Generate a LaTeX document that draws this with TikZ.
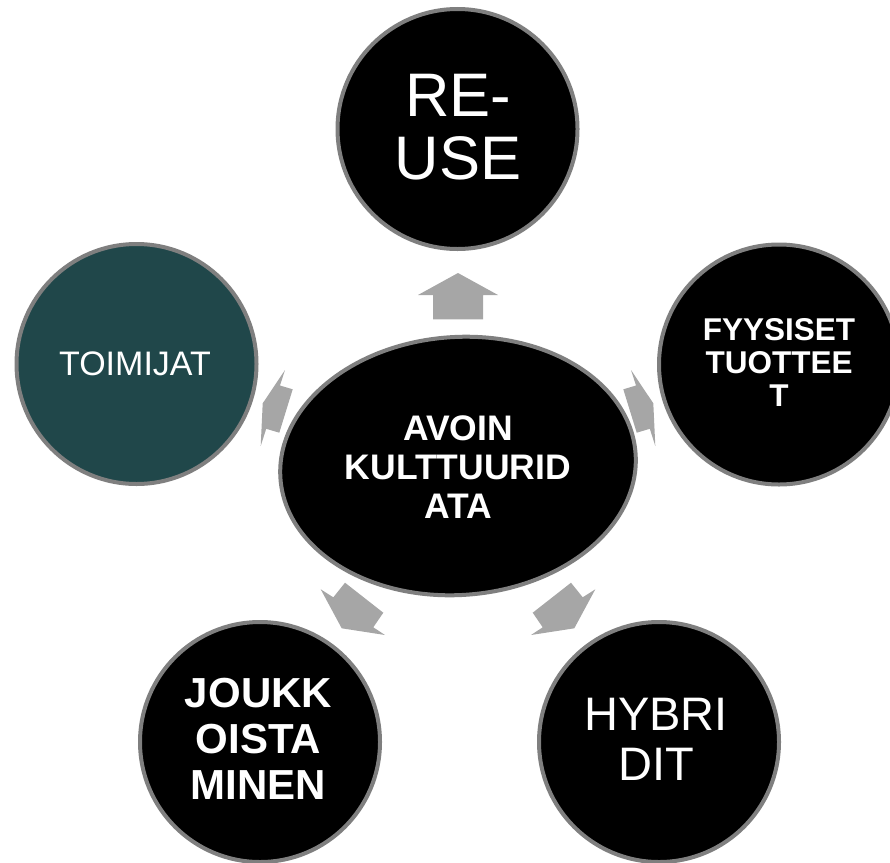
\documentclass[tikz,border=0pt]{standalone}
\usepackage{fontspec}
\setmainfont{Liberation Sans}
\usetikzlibrary{shapes.geometric}
\definecolor{ringgrey}{RGB}{127,127,127}
\definecolor{arrowgrey}{RGB}{166,166,166}
\definecolor{tealfill}{RGB}{32,71,74}
\begin{document}
\begin{tikzpicture}[x=1pt,y=-1pt,
  ring/.style={circle, draw=ringgrey, line width=4pt, minimum size=240pt, inner sep=0pt},
  ringtext/.style={text=white, align=center, inner sep=0pt},
  blockarrow/.style={fill=arrowgrey, draw=none}]
\useasboundingbox (0,0) rectangle (890,862);
\clip (0,0) rectangle (890,862);

% block arrows (from hub outwards)
\fill[blockarrow] (458,273) -- (498,295) -- (483,295) -- (483,319.3) -- (433,319.3) -- (433,295) -- (418,295) -- cycle;
\fill[blockarrow] (262.7,403.3) -- (285,370) -- (280,385.5) -- (292.7,389.3) -- (279.3,432.7) -- (266.2,428.8) -- (260.7,446) -- cycle;
\fill[blockarrow] (653.3,403.3) -- (631,370) -- (636,385.5) -- (623.3,389.3) -- (636.7,432.7) -- (649.8,428.8) -- (655.3,446) -- cycle;
\fill[blockarrow] (341.7,628.3) -- (320.7,589.3) -- (333.3,597.3) -- (345,582.7) -- (383.3,612.7) -- (373.3,627.3) -- (385,635) -- cycle;
\fill[blockarrow] (574.3,628.3) -- (595.3,589.3) -- (582.7,597.3) -- (571,582.7) -- (532.7,612.7) -- (542.7,627.3) -- (531,635) -- cycle;

% hub
\node[ellipse, draw=ringgrey, line width=4pt, fill=black, minimum width=356pt, minimum height=258pt, inner sep=0pt, rotate=4] (hub) at (458,466) {};
\node[ringtext, font=\bfseries\fontsize{35.5}{39}\selectfont] (hubtext) at (458,467.5) {AVOIN\\KULTTUURID\\ATA};

% satellites
\node[ring, fill=black] (reuse) at (457.5,129) {};
\node[ringtext, font=\fontsize{61.5}{63}\selectfont] (reusetext) at (458,126.7) {RE-\\USE};

\node[ring, fill=tealfill] (toimijat) at (136.5,364) {};
\node[ringtext, font=\fontsize{34}{38}\selectfont] (toimijattext) at (135,363.5) {TOIMIJAT};

\node[ring, fill=black] (fyysiset) at (779,364.5) {};
\node[ringtext, font=\bfseries\fontsize{31.5}{33.3}\selectfont] (fyysisettext) at (779,362.5) {FYYSISET\\TUOTTEE\\T};

\node[ring, fill=black] (joukko) at (260,742) {};
\node[ringtext, font=\bfseries\fontsize{42}{46}\selectfont] (joukkotext) at (258.5,739) {JOUKK\\OISTA\\MINEN};

\node[ring, fill=black] (hybridit) at (659,742) {};
\node[ringtext, font=\fontsize{47}{50}\selectfont] (hybriditext) at (656,739) {HYBRI\\DIT};
\end{tikzpicture}
\end{document}
